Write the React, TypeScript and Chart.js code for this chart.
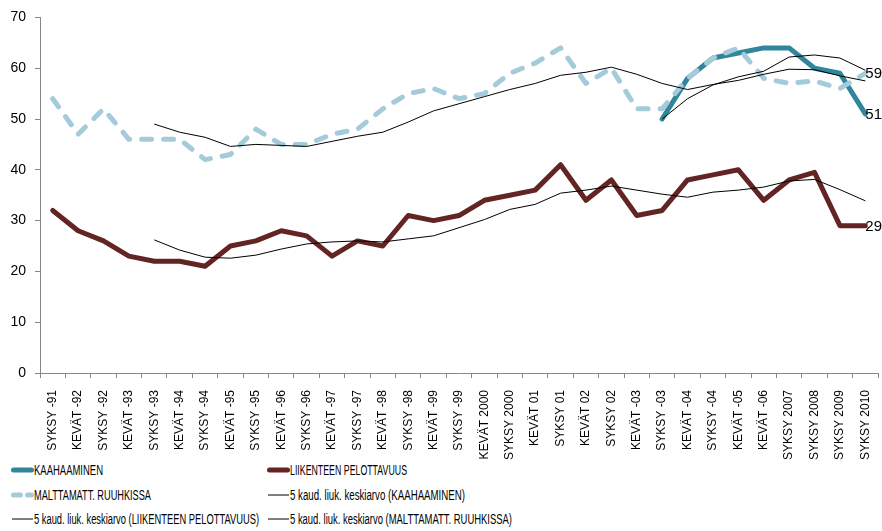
import React, { useEffect, useRef } from "react";
import { Chart, registerables } from "chart.js";

Chart.register(...registerables);

const categories = [
  "SYKSY -91", "KEVÄT -92", "SYKSY -92", "KEVÄT -93", "SYKSY -93", "KEVÄT -94",
  "SYKSY -94", "KEVÄT -95", "SYKSY -95", "KEVÄT -96", "SYKSY -96", "KEVÄT -97",
  "SYKSY -97", "KEVÄT -98", "SYKSY -98", "KEVÄT -99", "SYKSY -99", "KEVÄT 2000",
  "SYKSY 2000", "KEVÄT 01", "SYKSY 01", "KEVÄT 02", "SYKSY 02", "KEVÄT -03",
  "SYKSY -03", "KEVÄT -04", "SYKSY -04", "KEVÄT -05", "KEVÄT -06", "SYKSY 2007",
  "SYKSY 2008", "SYKSY 2009", "SYKSY 2010",
];

const kaahaaminen = [
  null, null, null, null, null, null, null, null, null, null, null, null,
  null, null, null, null, null, null, null, null, null, null, null, null,
  50, 58, 62, 63, 64, 64, 60, 59, 51,
];

const liikenteenPelottavuus = [
  32, 28, 26, 23, 22, 22, 21, 25, 26, 28, 27, 23, 26, 25, 31, 30, 31,
  34, 35, 36, 41, 34, 38, 31, 32, 38, 39, 40, 34, 38, 39.5, 29, 29,
];

const malttamattRuuhkissa = [
  54, 47, 52, 46, 46, 46, 42, 43, 48, 45, 45, 47, 48, 52, 55, 56, 54,
  55, 59, 61, 64, 57, 60, 52, 52, 58, 62, 64, 58, 57, 57.5, 56, 59,
];

const maKaahaaminen = [
  null, null, null, null, null, null, null, null, null, null, null, null,
  null, null, null, null, null, null, null, null, null, null, null, null,
  50, 54, 56.7, 58.3, 59.4, 62.2, 62.6, 62, 59.6,
];

const maLiikenteen = [
  null, null, null, null, 26.2, 24.2, 22.8, 22.6, 23.2, 24.4, 25.4, 25.8,
  26, 25.8, 26.4, 27, 28.6, 30.2, 32.2, 33.2, 35.4, 36, 36.8, 36, 35.2,
  34.6, 35.6, 36, 36.6, 37.8, 38.1, 36.1, 33.9,
];

const maMalttamatt = [
  null, null, null, null, 49, 47.4, 46.4, 44.6, 45, 44.8, 44.6, 45.6,
  46.6, 47.4, 49.4, 51.6, 53, 54.4, 55.8, 57, 58.6, 59.2, 60.2, 58.8, 57,
  55.8, 56.8, 57.6, 58.8, 59.8, 59.7, 58.5, 57.5,
];

const yTicks = [0, 10, 20, 30, 40, 50, 60, 70];

const legendLabels = [
  "KAAHAAMINEN",
  "LIIKENTEEN PELOTTAVUUS",
  "MALTTAMATT. RUUHKISSA",
  "5 kaud. liuk. keskiarvo (KAAHAAMINEN)",
  "5 kaud. liuk. keskiarvo (LIIKENTEEN PELOTTAVUUS)",
  "5 kaud. liuk. keskiarvo (MALTTAMATT. RUUHKISSA)",
];

// visual style of legend entries (colour, line width, dash, grid cell, text width)
const legendStyles = [
  { color: "#31859C", width: 5, dash: "", col: 0, row: 0, textW: 69 },
  { color: "#632523", width: 5, dash: "", col: 1, row: 0, textW: 117 },
  { color: "#A5CBDB", width: 5, dash: "7 7", col: 0, row: 1, textW: 117 },
  { color: "#000", width: 1, dash: "", col: 1, row: 1, textW: 175 },
  { color: "#000", width: 1, dash: "", col: 0, row: 2, textW: 225 },
  { color: "#000", width: 1, dash: "", col: 1, row: 2, textW: 222 },
];

const LEGEND_FONT = "14px 'Liberation Sans', sans-serif";

const endLabelPlugin = {
  id: "endLabels",
  afterDatasetsDraw(chart: any) {
    const ctx = chart.ctx;
    chart.data.datasets.forEach((ds: any, i: number) => {
      if (!ds.endLabel) return;
      const meta = chart.getDatasetMeta(i);
      const pt = meta.data[meta.data.length - 1];
      const v = ds.data[ds.data.length - 1];
      ctx.save();
      ctx.font = "15px 'Liberation Sans', sans-serif";
      ctx.fillStyle = "#000";
      ctx.textAlign = "left";
      ctx.textBaseline = "middle";
      ctx.fillText(String(v), pt.x, pt.y + 1);
      ctx.restore();
    });
  },
};

let measureCtx: CanvasRenderingContext2D | null = null;
function measure(text: string): number {
  if (!measureCtx) {
    measureCtx = document.createElement("canvas").getContext("2d");
  }
  if (!measureCtx) return text.length * 7;
  measureCtx.font = LEGEND_FONT;
  return measureCtx.measureText(text).width;
}

export default function App() {
  const ref = useRef<HTMLCanvasElement>(null);

  useEffect(() => {
    if (!ref.current) return;
    const chart = new Chart(ref.current, {
      type: "line",
      data: {
        labels: categories,
        datasets: [
          {
            label: legendLabels[0],
            data: kaahaaminen,
            borderColor: "#31859C",
            borderWidth: 5,
            borderCapStyle: "round",
            borderJoinStyle: "round",
            pointRadius: 0,
            order: 3,
            endLabel: true,
          } as any,
          {
            label: legendLabels[1],
            data: liikenteenPelottavuus,
            borderColor: "#632523",
            borderWidth: 5,
            borderCapStyle: "round",
            borderJoinStyle: "round",
            pointRadius: 0,
            order: 2,
            endLabel: true,
          },
          {
            label: legendLabels[2],
            data: malttamattRuuhkissa,
            borderColor: "#A5CBDB",
            borderWidth: 5,
            borderDash: [10, 12],
            borderCapStyle: "round",
            borderJoinStyle: "round",
            pointRadius: 0,
            order: 1,
            endLabel: true,
          },
          {
            label: legendLabels[3],
            data: maKaahaaminen,
            borderColor: "#000",
            borderWidth: 1,
            pointRadius: 0,
            order: 0,
          },
          {
            label: legendLabels[4],
            data: maLiikenteen,
            borderColor: "#000",
            borderWidth: 1,
            pointRadius: 0,
            order: 0,
          },
          {
            label: legendLabels[5],
            data: maMalttamatt,
            borderColor: "#000",
            borderWidth: 1,
            pointRadius: 0,
            order: 0,
          },
        ] as any,
      },
      options: {
        animation: false,
        responsive: false,
        maintainAspectRatio: false,
        layout: { padding: { top: 16, right: 4, left: 0, bottom: 0 } },
        plugins: {
          legend: { display: false },
          tooltip: { enabled: false },
        },
        scales: {
          x: {
            type: "category",
            offset: true,
            grid: {
              offset: true,
              drawOnChartArea: false,
              color: "#868686",
              tickLength: 5,
            },
            border: { display: true, color: "#868686", width: 1 },
            ticks: {
              autoSkip: false,
              maxRotation: 90,
              minRotation: 90,
              padding: 12,
              color: "#000",
              font: { family: "'Liberation Sans', sans-serif", size: 12 },
            },
            afterFit: (scale: any) => {
              scale.height = 87;
              scale.paddingLeft = 0;
              scale.paddingRight = 0;
            },
          },
          y: {
            min: 0,
            max: 70,
            afterBuildTicks: (scale: any) => {
              scale.ticks = yTicks.map((v) => ({ value: v }));
            },
            grid: {
              drawOnChartArea: false,
              color: "#868686",
              tickLength: 5,
            },
            border: { display: true, color: "#868686", width: 1 },
            ticks: {
              padding: 9,
              color: "#000",
              font: { family: "'Liberation Sans', sans-serif", size: 14 },
            },
            afterFit: (scale: any) => {
              scale.width = 40;
            },
          },
        },
      } as any,
      plugins: [endLabelPlugin],
    });
    return () => chart.destroy();
  }, []);

  const rowY = [470, 495, 519];
  const colX = [11, 267];

  return (
    <div style={{ position: "fixed", left: 0, top: 0, width: 882, height: 531, background: "#fff" }}>
      <canvas ref={ref} width={882} height={460} style={{ position: "absolute", left: 0, top: 0, width: 882, height: 460 }} />
      {legendLabels.map((label, i) => {
        const it = legendStyles[i];
        const w = measure(label);
        const sx = w > 0 ? it.textW / w : 1;
        return (
          <div
            key={i}
            style={{
              position: "absolute",
              left: colX[it.col],
              top: rowY[it.row] - 10,
              height: 20,
              display: "flex",
              alignItems: "center",
              whiteSpace: "nowrap",
              font: LEGEND_FONT,
              color: "#000",
            }}
          >
            <svg width={23} height={20} style={{ display: "block", flex: "none" }}>
              <line
                x1={it.width > 2 ? 2.5 : 1}
                y1={10}
                x2={it.width > 2 ? 20.5 : 22}
                y2={10}
                stroke={it.color}
                strokeWidth={it.width}
                strokeLinecap={it.width > 2 ? "round" : "butt"}
                strokeDasharray={it.dash || undefined}
              />
            </svg>
            <span
              style={{
                display: "inline-block",
                transform: `scaleX(${sx})`,
                transformOrigin: "left center",
              }}
            >
              {label}
            </span>
          </div>
        );
      })}
    </div>
  );
}
